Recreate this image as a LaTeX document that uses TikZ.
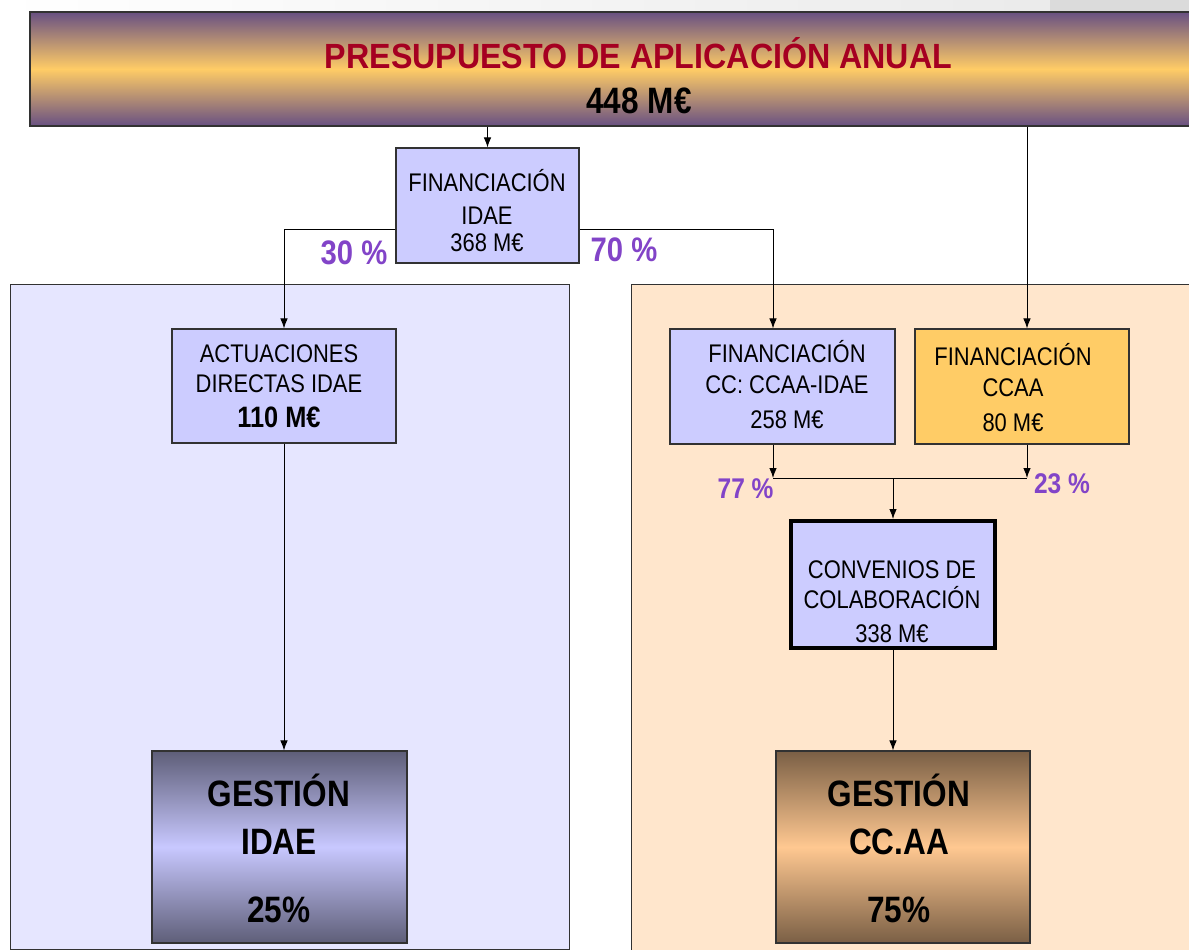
\documentclass[tikz,border=0pt]{standalone}
\usepackage{fontspec}
\newfontfamily\nf{Liberation Sans}[FakeStretch=0.86]
\newfontfamily\tf{Liberation Sans}[FakeStretch=0.92]
\usetikzlibrary{arrows.meta,calc}
\definecolor{bannerpurple}{RGB}{104,80,130}
\definecolor{banneryellow}{RGB}{255,204,102}
\definecolor{titlered}{RGB}{165,0,33}
\definecolor{boxlav}{RGB}{204,204,255}
\definecolor{panelblue}{RGB}{230,230,255}
\definecolor{panelpeach}{RGB}{255,230,204}
\definecolor{boxorange}{RGB}{255,204,102}
\definecolor{pctpurple}{RGB}{130,68,200}
\definecolor{gidaedark}{RGB}{94,94,120}
\definecolor{gidaelight}{RGB}{200,200,255}
\definecolor{gccdark}{RGB}{122,95,69}
\definecolor{gcclight}{RGB}{255,200,145}
\definecolor{edgegray}{RGB}{50,50,50}
\tikzset{
  boxnode/.style={draw=edgegray, line width=1.1pt, inner sep=0pt, fill=boxlav},
  paneln/.style={draw=edgegray, line width=1pt, inner sep=0pt},
  arr/.style={draw=black, line width=0.9pt, -{Latex[length=10pt,width=7.5pt]}},
  ln/.style={draw=black, line width=0.9pt},
  t25/.style={anchor=base, inner sep=0pt, font=\nf\fontsize{25.5}{30}\selectfont},
  b29/.style={anchor=base, inner sep=0pt, font=\nf\bfseries\fontsize{29.5}{34}\selectfont},
  b37/.style={anchor=base, inner sep=0pt, font=\nf\bfseries\fontsize{36.7}{42}\selectfont},
  pct34/.style={anchor=base, inner sep=0pt, text=pctpurple, font=\nf\bfseries\fontsize{34}{38}\selectfont},
  pct28/.style={anchor=base, inner sep=0pt, text=pctpurple, font=\nf\bfseries\fontsize{28.5}{32}\selectfont},
}
\begin{document}
\begin{tikzpicture}[x=1pt,y=-1pt]
\useasboundingbox (0,0) rectangle (1189,950);
\fill[white] (0,0) rectangle (1189,950);
% top strip
\shade[left color=white, right color=black!8] (0,0) rectangle (1050,12);
\fill[black!14] (1050,0) rectangle (1189,12);
% panels
\node[paneln, fill=panelblue, minimum width=559pt, minimum height=665pt] (lpanel) at (289.5,616.5) {};
\node[paneln, fill=panelpeach, minimum width=580pt, minimum height=680pt] (rpanel) at (921,624) {};
% banner
\node[draw=edgegray, line width=1.2pt, inner sep=0pt, minimum width=1170pt, minimum height=114pt,
  top color=bannerpurple, bottom color=bannerpurple, middle color=banneryellow] (banner) at (615,69) {};
\node[anchor=base, inner sep=0pt, text=titlered, font=\tf\bfseries\fontsize{35}{40}\selectfont] (title) at (638.5,69) {PRESUPUESTO DE APLICACIÓN ANUAL};
\node[b37] (total) at (639,113.2) {448 M€};
% boxes
\node[boxnode, minimum width=183pt, minimum height=115pt] (finidae) at (487.5,205.5) {};
\node[boxnode, minimum width=224pt, minimum height=114pt] (act) at (284,386) {};
\node[boxnode, minimum width=225pt, minimum height=115pt] (fincc) at (782.5,386.5) {};
\node[boxnode, fill=boxorange, minimum width=214pt, minimum height=115pt] (finccaa) at (1022,386.5) {};
\node[boxnode, draw=black, line width=4pt, minimum width=204pt, minimum height=127pt] (conv) at (893,584.5) {};
\node[draw=edgegray, line width=1.1pt, inner sep=0pt, minimum width=255pt, minimum height=192pt,
  top color=gidaedark, bottom color=gidaedark, middle color=gidaelight] (gidae) at (279.5,847) {};
\node[draw=edgegray, line width=1.1pt, inner sep=0pt, minimum width=254pt, minimum height=192pt,
  top color=gccdark, bottom color=gccdark, middle color=gcclight] (gcc) at (903,847) {};
% box texts
\node[t25] (fi1) at (487,191.6) {FINANCIACIÓN};
\node[t25] (fi2) at (487,224.1) {IDAE};
\node[t25] (fi3) at (487,251.1) {368 M€};
\node[t25] (ac1) at (279,362.1) {ACTUACIONES};
\node[t25] (ac2) at (279,392.9) {DIRECTAS IDAE};
\node[b29] (ac3) at (279,427.6) {110 M€};
\node[t25] (fc1) at (787,362.1) {FINANCIACIÓN};
\node[t25] (fc2) at (787,393.1) {CC: CCAA-IDAE};
\node[t25] (fc3) at (787,428.1) {258 M€};
\node[t25] (fa1) at (1013,365.8) {FINANCIACIÓN};
\node[t25] (fa2) at (1013,396.1) {CCAA};
\node[t25] (fa3) at (1013,431.1) {80 M€};
\node[t25] (cv1) at (892,578.1) {CONVENIOS DE};
\node[t25] (cv2) at (892,608.1) {COLABORACIÓN};
\node[t25] (cv3) at (892,642.8) {338 M€};
\node[b37] (gi1) at (279,806.1) {GESTIÓN};
\node[b37] (gi2) at (279,854.8) {IDAE};
\node[b37] (gi3) at (279,922.8) {25\%};
\node[b37] (gc1) at (899,806.1) {GESTIÓN};
\node[b37] (gc2) at (899,854.8) {CC.AA};
\node[b37] (gc3) at (899,922.8) {75\%};
% percentages
\node[pct34] (p30) at (354,264.2) {30 \%};
\node[pct34] (p70) at (624,261.2) {70 \%};
\node[pct28] (p77) at (745.6,498.2) {77 \%};
\node[pct28] (p23) at (1062,493.2) {23 \%};
% junction coordinates
\coordinate (jl) at (284,229);
\coordinate (jr) at (773,229);
\coordinate (bl) at (773,478);
\coordinate (bc) at (1027,478);
% connectors
\draw[arr] (finidae.north |- banner.south) -- (finidae.north);
\draw[arr] (finidae.west |- jl) -- (jl) -- (act.north);
\draw[arr] (finidae.east |- jr) -- (jr) -- (jr |- fincc.north);
\draw[arr] (bc |- banner.south) -- (bc |- finccaa.north);
\draw[arr] (jr |- fincc.south) -- (bl);
\draw[arr] (bc |- finccaa.south) -- (bc);
\draw[ln] (bl) -- (bc);
\draw[arr] (conv.north |- bl) -- (conv.north);
\draw[arr] (act.south) -- (act.south |- gidae.north);
\draw[arr] (conv.south) -- (conv.south |- gcc.north);
\end{tikzpicture}
\end{document}
